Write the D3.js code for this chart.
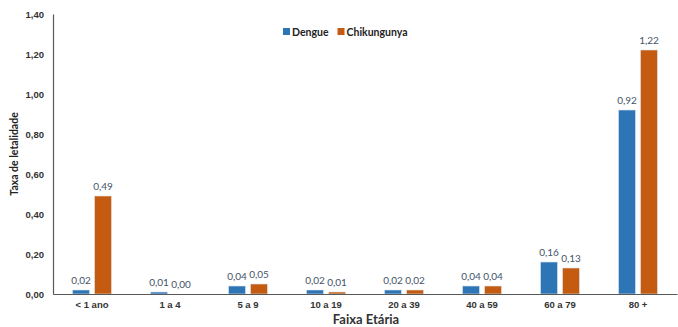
<!DOCTYPE html>
<html>
<head>
<meta charset="utf-8">
<script src="https://cdn.jsdelivr.net/npm/d3@7"></script>
<style>
  html, body { margin: 0; padding: 0; background: #fff; }
  svg { display: block; font-family: Lato, "Open Sans", sans-serif; }
</style>
</head>
<body>
<svg id="chart" width="678" height="327"></svg>
<script>
// Case-fatality rate by age group
const categories = ["< 1 ano", "1 a 4", "5 a 9", "10 a 19", "20 a 39", "40 a 59", "60 a 79", "80 +"];
const dengue = [0.02, 0.01, 0.04, 0.02, 0.02, 0.04, 0.16, 0.92];
const chikungunya = [0.49, 0.00, 0.05, 0.01, 0.02, 0.04, 0.13, 1.22];
const seriesNames = ["Dengue", "Chikungunya"];
const yTicks = [0, 0.2, 0.4, 0.6, 0.8, 1.0, 1.2, 1.4];

const colors = { Dengue: "#2E75B6", Chikungunya: "#C55A11" };
const series = { Dengue: dengue, Chikungunya: chikungunya };

const svg = d3.select("#chart");
const margin = { left: 53, right: 1, top: 14, bottom: 33 };
const W = 678, H = 327;

const x = d3.scaleBand().domain(categories).range([margin.left, W - margin.right]).padding(0);
const y = d3.scaleLinear().domain([0, 1.4]).range([H - margin.bottom, margin.top]);
const barW = 17, gap = 5;
const fmt = v => d3.format(".2f")(v).replace(".", ",");

// y axis
const yAxis = svg.append("g").attr("transform", `translate(${margin.left},0)`)
  .call(d3.axisLeft(y).tickValues(yTicks).tickFormat(fmt).tickSize(0).tickPadding(9));
yAxis.select(".domain").attr("stroke", "#595959").attr("stroke-width", 1.2);
yAxis.selectAll("text").attr("font-size", 9.5).attr("font-weight", "bold").attr("fill", "#333");

// bars
seriesNames.forEach((name, si) => {
  const off = si === 0 ? -gap / 2 - barW : gap / 2;
  const g = svg.append("g");
  g.selectAll("rect").data(series[name]).join("rect")
    .attr("x", (d, i) => x(categories[i]) + x.bandwidth() / 2 + off)
    .attr("y", d => y(d))
    .attr("width", barW)
    .attr("height", d => y(0) - y(d))
    .attr("fill", colors[name])
    .attr("stroke", "#dfe7f0").attr("stroke-width", 0.6);
  g.selectAll("text").data(series[name]).join("text")
    .attr("x", (d, i) => x(categories[i]) + x.bandwidth() / 2 + off + barW / 2)
    .attr("y", d => y(d) - 6)
    .attr("text-anchor", "middle")
    .attr("font-size", 10)
    .attr("fill", "#44546A")
    .text(fmt);
});

// x axis
const xAxis = svg.append("g").attr("transform", `translate(0,${y(0)})`)
  .call(d3.axisBottom(x).tickSize(0).tickPadding(7).tickSizeOuter(0));
xAxis.select(".domain").attr("stroke", "#595959").attr("stroke-width", 1.2);
xAxis.selectAll("text").attr("font-size", 9.5).attr("font-weight", "bold").attr("fill", "#333");

// axis titles
svg.append("text").attr("x", 366).attr("y", 324).attr("text-anchor", "middle")
  .attr("font-size", 13).attr("font-weight", "bold").attr("fill", "#333").text("Faixa Etária");
svg.append("text").attr("transform", "translate(18,154) rotate(-90)").attr("text-anchor", "middle")
  .attr("font-size", 10.5).attr("font-weight", "bold").attr("fill", "#222").text("Taxa de letalidade");

// legend
const legend = svg.append("g").attr("transform", "translate(283,32)");
let lx = 0;
seriesNames.forEach(name => {
  legend.append("rect").attr("x", lx).attr("y", -4).attr("width", 7).attr("height", 7).attr("fill", colors[name]);
  const t = legend.append("text").attr("x", lx + 9).attr("y", 3.5)
    .attr("font-size", 10.5).attr("font-weight", "bold").attr("fill", "#222").text(name);
  lx += 9 + t.node().getComputedTextLength() + 9;
});
</script>
</body>
</html>
